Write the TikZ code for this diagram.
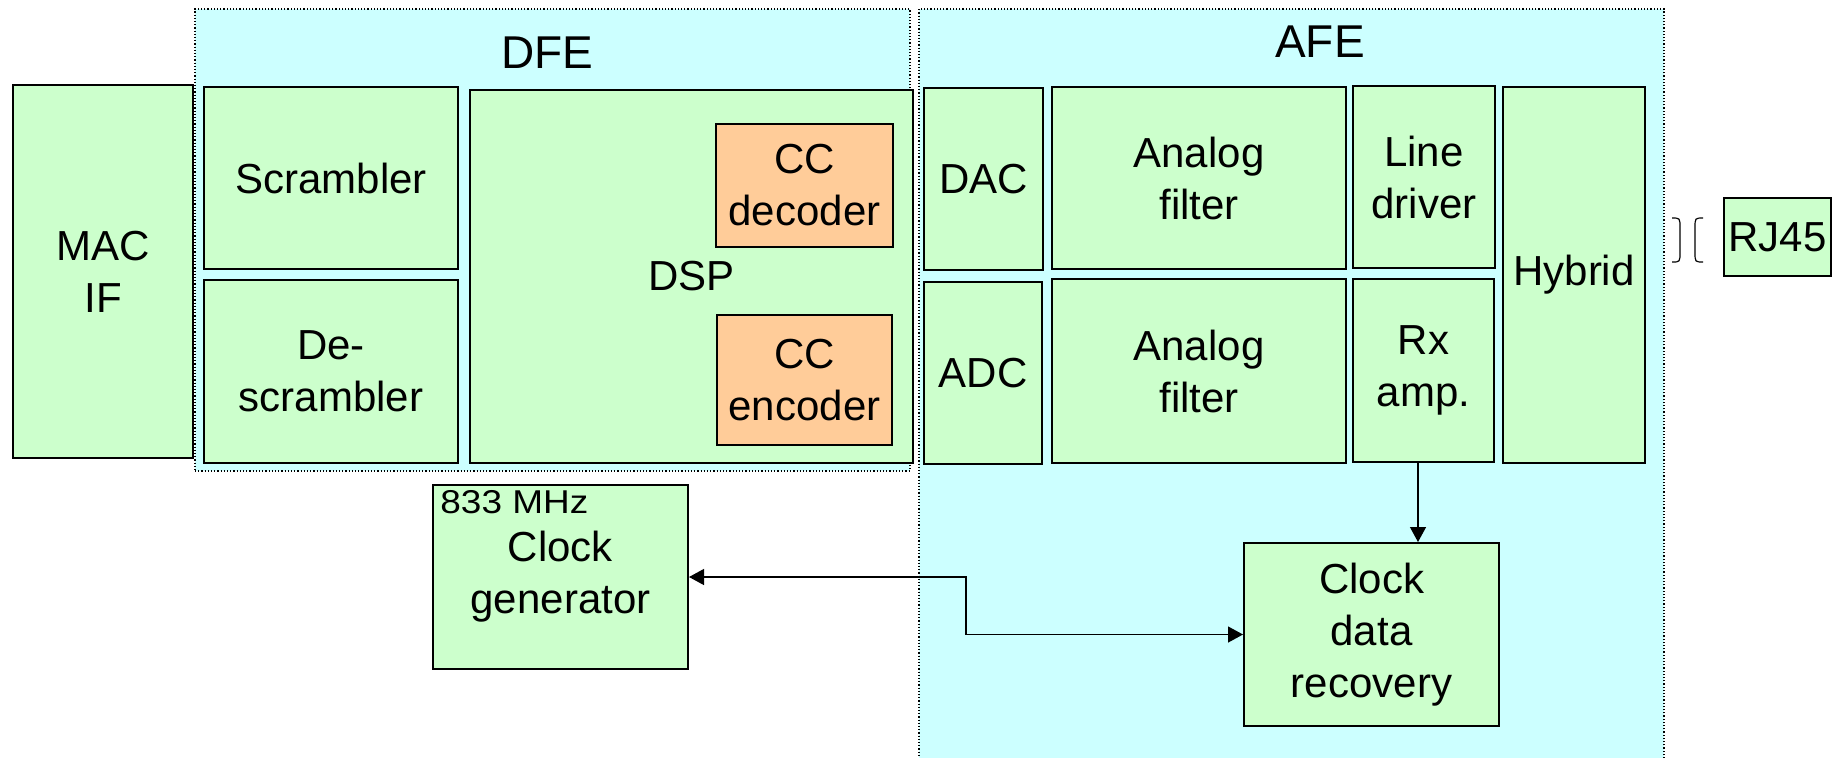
\documentclass[tikz,border=0pt]{standalone}
\usepackage{fontspec}
\setmainfont{Liberation Sans}
\usetikzlibrary{fit,arrows.meta,calc}
\definecolor{boxgreen}{RGB}{204,255,204}
\definecolor{regioncyan}{RGB}{204,255,255}
\definecolor{ccorange}{RGB}{255,204,153}
\begin{document}
\begin{tikzpicture}[x=0.5pt,y=-0.5pt,
  box/.style={draw=black, line width=1pt, fill=boxgreen, inner sep=0pt, align=center,
    font=\fontsize{21}{26}\selectfont},
  ccbox/.style={box, fill=ccorange},
  region/.style={draw=black, densely dotted, line width=0.6pt, fill=regioncyan, inner sep=0pt},
  regtitle/.style={inner sep=0pt, font=\fontsize{23}{23}\selectfont},
  conn/.style={draw=black, line width=0.65pt},
  tip/.tip={Triangle[length=7.5pt,width=8pt]},
  brk/.style={draw=black, line width=0.6pt}
]
\useasboundingbox (0,0) rectangle (1832,757);

% regions
\node[region, fit={(195,9) (910,471)}] (dfe) {};
\node[region, fit={(919,9) (1664,762)}] (afe) {};
\node[regtitle] (dfetitle) at (547,53) {DFE};
\node[regtitle] (afetitle) at (1320,42) {AFE};

% left blocks
\node[box, minimum width=90pt, minimum height=186.5pt] (mac) at (103,271.5) {MAC\\IF};
\node[box, minimum width=127pt, minimum height=91pt] (scr) at (331,178) {Scrambler};
\node[box, minimum width=127pt, minimum height=91.5pt] (dscr) at (331,371.5) {De-\\scrambler};
\node[box, minimum width=221.5pt, minimum height=186.5pt] (dsp) at (691.5,276.5) {DSP};
\node[ccbox, minimum width=88.5pt, minimum height=61.5pt] (ccdec) at (804.5,185.5) {CC\\decoder};
\node[ccbox, minimum width=87.5pt, minimum height=65pt] (ccenc) at (804.5,380) {CC\\encoder};

% AFE blocks
\node[box, minimum width=59.5pt, minimum height=91pt] (dac) at (983.5,179) {DAC};
\node[box, minimum width=59pt, minimum height=91pt] (adc) at (983,373) {ADC};
\node[box, minimum width=147pt, minimum height=91pt] (af1) at (1199,178) {Analog\\filter};
\node[box, minimum width=147pt, minimum height=92pt] (af2) at (1199,371) {Analog\\filter};
\node[box, minimum width=71pt, minimum height=91pt] (ld) at (1424,177) {Line\\driver};
\node[box, minimum width=70.5pt, minimum height=91.5pt] (rx) at (1423.5,370.5) {Rx\\amp.};
\node[box, minimum width=71pt, minimum height=188pt] (hyb) at (1574,275) {Hybrid};

% RJ45 and connector brackets
\node[box, minimum width=53.5pt, minimum height=39pt] (rj) at (1777.5,237) {RJ45};
\draw[brk] (1672,218) .. controls (1680,218) .. (1680,228) -- (1680,252) .. controls (1680,262) .. (1672,262);
\draw[brk] (1703,218) .. controls (1695,218) .. (1695,228) -- (1695,252) .. controls (1695,262) .. (1703,262);

% clock blocks
\node[box, minimum width=127.5pt, minimum height=92pt] (cg) at (560.5,577) {Clock\\generator};
\node[inner sep=0pt, anchor=base west, font=\fontsize{16.5}{16.5}\selectfont] (mhz) at (440,513) {\scalebox{1.12}[1]{833 MHz}};
\node[box, minimum width=127.5pt, minimum height=91.5pt] (cdr) at (1371.5,634.5) {Clock\\data\\recovery};

% connectors
\coordinate (rxo) at ($(rx.south)+(-5.5,0)$);
\draw[conn, -tip] (rxo) -- (rxo |- cdr.north);
\coordinate (bend) at (966,600);
\draw[conn, tip-tip] (cg.east) -- (cg.east -| bend) |- (cdr.west);
\end{tikzpicture}
\end{document}
